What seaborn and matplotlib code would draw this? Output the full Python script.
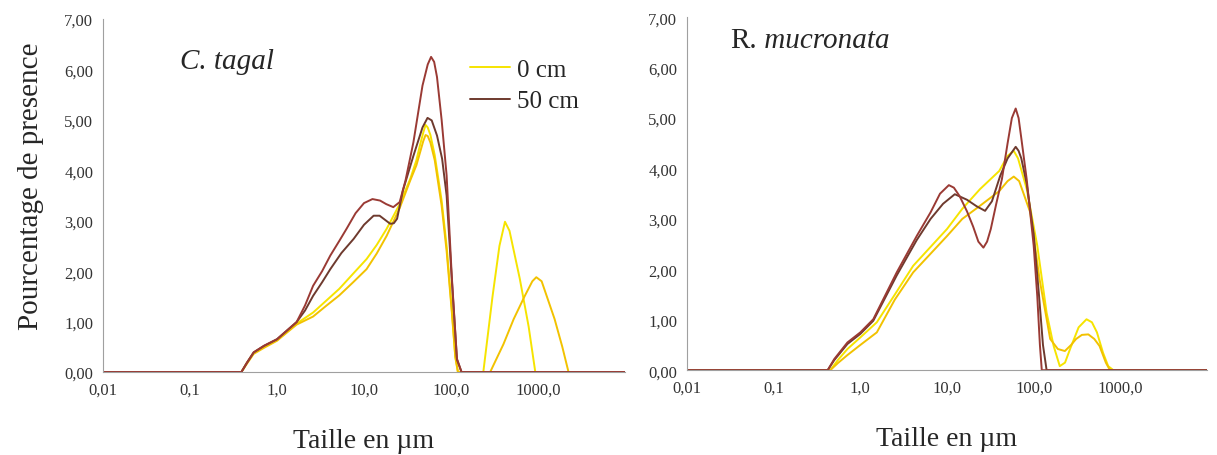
"""Granulometry curves, C. tagal vs R. mucronata, 0 cm / 50 cm."""
import matplotlib
matplotlib.use("Agg")
import matplotlib.pyplot as plt
import seaborn as sns

sns.set_style("white")
plt.rcParams['font.family'] = ['Liberation Serif', 'DejaVu Serif']

# ---- C. tagal (left panel) : sizes in um, percentages ----
ct_0a_x = [0.01, 0.39, 0.45, 0.54, 0.71, 1.0, 1.68, 2.6, 3.6, 5.2, 7.5, 10.7, 14, 18.2, 25.7, 34, 40, 44, 48, 51, 54,
           58, 65, 78, 89, 102, 112, 120, 235, 300, 360, 417, 470, 617, 780, 930, 10000]
ct_0a_y = [0, 0, 0.18, 0.38, 0.50, 0.63, 0.96, 1.18, 1.40, 1.65, 1.95, 2.24, 2.52, 2.84, 3.33, 3.83, 4.20, 4.50, 4.75,
           4.90, 4.85, 4.70, 4.30, 3.40, 2.50, 1.25, 0.30, 0, 0, 1.50, 2.50, 2.98, 2.80, 1.85, 0.90, 0, 0]
ct_0b_x = [0.01, 0.39, 0.45, 0.54, 0.71, 1.0, 1.68, 2.6, 3.6, 5.2, 7.5, 10.7, 14, 18.2, 25.7, 34, 40, 44, 48, 51, 54,
           58, 65, 78, 89, 102, 112, 120, 282, 400, 525, 700, 860, 955, 1100, 1550, 1900, 2240, 10000]
ct_0b_y = [0, 0, 0.16, 0.36, 0.48, 0.62, 0.94, 1.10, 1.30, 1.52, 1.78, 2.04, 2.35, 2.70, 3.25, 3.80, 4.10, 4.35, 4.58,
           4.70, 4.68, 4.55, 4.20, 3.30, 2.40, 1.20, 0.30, 0, 0, 0.55, 1.05, 1.50, 1.80, 1.88, 1.80, 1.05, 0.50, 0, 0]
ct_50a_x = [0.01, 0.39, 0.45, 0.54, 0.71, 1.0, 1.68, 2.1, 2.6, 3.3, 4.1, 5.2, 6.3, 8.0, 10, 12.5, 15.3, 18, 21.7, 25.7,
            30, 37, 47, 54, 59, 64, 69, 78, 89, 102, 117, 132, 10000]
ct_50a_y = [0, 0, 0.18, 0.39, 0.52, 0.65, 0.99, 1.32, 1.71, 2.00, 2.31, 2.60, 2.84, 3.15, 3.35, 3.43, 3.40, 3.33, 3.27,
            3.37, 3.80, 4.56, 5.68, 6.10, 6.25, 6.15, 5.85, 5.00, 3.90, 1.90, 0.26, 0, 0]
ct_50b_x = [0.01, 0.39, 0.45, 0.54, 0.71, 1.0, 1.68, 2.1, 2.6, 3.3, 4.1, 5.5, 7.6, 10, 12.9, 15.1, 18, 20, 22, 24, 28,
            37, 47, 53.7, 60, 69, 79, 89, 102, 117, 132, 10000]
ct_50b_y = [0, 0, 0.18, 0.39, 0.52, 0.65, 0.99, 1.22, 1.51, 1.78, 2.04, 2.36, 2.64, 2.92, 3.10, 3.10, 3.00, 2.94, 2.95,
            3.04, 3.60, 4.29, 4.85, 5.04, 4.99, 4.69, 4.23, 3.50, 1.85, 0.25, 0, 0]

# ---- R. mucronata (right panel) ----
rm_0a_x = [0.01, 0.45, 0.55, 0.71, 1.0, 1.55, 2.5, 4.07, 10, 15, 24, 40, 50, 58.9, 66, 83.2, 110, 141, 170, 200, 230,
           263, 330, 407, 470, 537, 630, 724, 832, 10000]
rm_0a_y = [0, 0, 0.20, 0.42, 0.65, 0.95, 1.50, 2.07, 2.80, 3.20, 3.59, 3.95, 4.25, 4.35, 4.20, 3.59, 2.47, 1.14, 0.48,
           0.08, 0.15, 0.42, 0.85, 1.01, 0.95, 0.75, 0.35, 0.08, 0, 0]
rm_0b_x = [0.01, 0.45, 0.55, 0.71, 1.0, 1.55, 2.5, 4.07, 10, 15, 24, 40, 50, 58.9, 68, 91.2, 117, 155, 190, 229, 270,
           309, 360, 427, 500, 575, 680, 759, 10000]
rm_0b_y = [0, 0, 0.14, 0.30, 0.50, 0.75, 1.40, 1.94, 2.66, 3.00, 3.26, 3.55, 3.75, 3.84, 3.75, 3.13, 1.80, 0.62, 0.42,
           0.38, 0.50, 0.62, 0.70, 0.71, 0.62, 0.48, 0.15, 0, 0]
rm_50a_x = [0.01, 0.42, 0.5, 0.71, 1.0, 1.41, 2.63, 4.47, 6.46, 8.3, 10.5, 12, 14, 17, 20, 23, 26.3, 29, 32, 37, 43, 50,
            56, 62, 67, 72, 83, 100, 110, 118, 124, 10000]
rm_50a_y = [0, 0, 0.22, 0.55, 0.75, 1.01, 1.94, 2.66, 3.13, 3.50, 3.67, 3.62, 3.45, 3.15, 2.85, 2.55, 2.43, 2.55, 2.80,
            3.30, 3.79, 4.50, 5.00, 5.19, 5.00, 4.60, 3.79, 2.47, 1.47, 0.50, 0, 0]
rm_50b_x = [0.01, 0.42, 0.5, 0.71, 1.0, 1.41, 2.63, 4.47, 6.46, 9, 12.3, 17, 22, 27.5, 33, 41, 50, 62, 67, 72, 83, 100,
            115, 128, 141, 10000]
rm_50b_y = [0, 0, 0.20, 0.52, 0.72, 0.98, 1.88, 2.58, 3.00, 3.30, 3.49, 3.38, 3.25, 3.16, 3.35, 3.85, 4.20, 4.43, 4.35,
            4.20, 3.70, 2.70, 1.50, 0.50, 0, 0]

x_ticks = [0.01, 0.1, 1, 10, 100, 1000]
x_ticklabels = ["0,01", "0,1", "1,0", "10,0", "100,0", "1000,0"]
y_ticks = [0, 1, 2, 3, 4, 5, 6, 7]
y_ticklabels = ["%d,00" % v for v in y_ticks]

yellow_a = "#F6E400"
yellow_b = "#F2C200"
brown_a = "#9A3A34"
brown_b = "#6E3A2E"
axis_grey = "#A0A0A0"

fig = plt.figure(figsize=(12.17, 4.56), dpi=100)
ax1 = fig.add_axes([0.0846, 0.182, 0.429, 0.774])
ax2 = fig.add_axes([0.5645, 0.186, 0.4273, 0.774])

panels = [
    (ax1, [(ct_0a_x, ct_0a_y, yellow_a, "0 cm"), (ct_0b_x, ct_0b_y, yellow_b, None),
           (ct_50b_x, ct_50b_y, brown_b, "50 cm"), (ct_50a_x, ct_50a_y, brown_a, None)]),
    (ax2, [(rm_0a_x, rm_0a_y, yellow_a, None), (rm_0b_x, rm_0b_y, yellow_b, None),
           (rm_50b_x, rm_50b_y, brown_b, None), (rm_50a_x, rm_50a_y, brown_a, None)]),
]

for ax, curves in panels:
    for xs, ys, col, lab in curves:
        sns.lineplot(x=xs, y=ys, ax=ax, color=col, lw=1.4, sort=False, label=lab, legend=False)
    ax.set_xscale("log")
    ax.set_xlim(0.01, 10000)
    ax.set_ylim(0, 7)
    ax.set_xticks(x_ticks)
    ax.set_xticklabels(x_ticklabels)
    ax.minorticks_off()
    ax.set_yticks(y_ticks)
    ax.set_yticklabels(y_ticklabels)
    ax.tick_params(axis="both", direction="out", length=4, width=0.8, color=axis_grey,
                   labelsize=12, labelcolor="#333333", pad=3)
    for side in ["top", "right"]:
        ax.spines[side].set_visible(False)
    for side in ["left", "bottom"]:
        ax.spines[side].set_color(axis_grey)
        ax.spines[side].set_linewidth(0.8)
    ax.set_xlabel("Taille en µm", fontsize=20, labelpad=22)
    ax.set_ylabel("")

ax1.set_ylabel("Pourcentage de presence", fontsize=21)
ax1.yaxis.set_label_coords(-0.112, 0.53)

# species names
ax1.text(0.148, 0.88, "C. tagal", transform=ax1.transAxes, fontsize=21, style="italic", va="center")
r_txt = ax2.text(0.083, 0.935, "R.", transform=ax2.transAxes, fontsize=21, va="center")
ax2.annotate(" mucronata", xy=(1, 0), xycoords=r_txt, fontsize=21, style="italic", va="bottom")

leg = ax1.legend(loc="upper left", bbox_to_anchor=(0.703, 0.888), frameon=False, fontsize=18,
                 handlelength=1.6, handletextpad=0.3, labelspacing=0.35, borderpad=0, borderaxespad=0)

fig.savefig("out.png", dpi=100)
